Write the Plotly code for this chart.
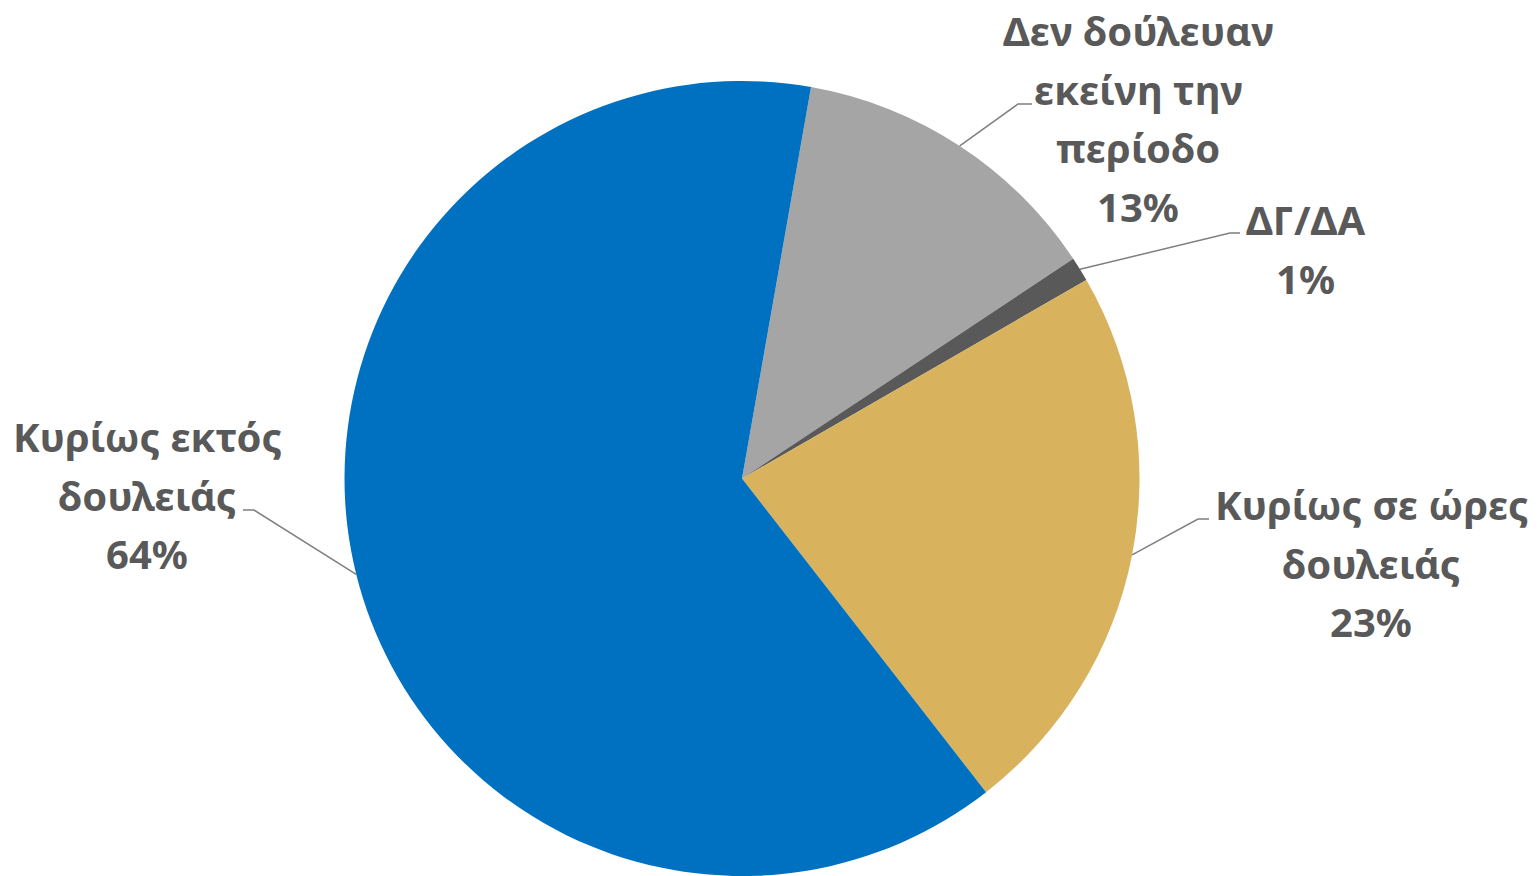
import math
import plotly.graph_objects as go

# slice data, clockwise from the top
labels = ["Δεν δούλευαν εκείνη την περίοδο", "ΔΓ/ΔΑ", "Κυρίως σε ώρες δουλειάς", "Κυρίως εκτός δουλειάς"]
values = [12.9, 1.0, 22.8, 63.3]
pct_text = ["13%", "1%", "23%", "64%"]
label_lines = [
    ["Δεν δούλευαν", "εκείνη την", "περίοδο"],
    ["ΔΓ/ΔΑ"],
    ["Κυρίως σε ώρες", "δουλειάς"],
    ["Κυρίως εκτός", "δουλειάς"],
]
colors = ["#A5A5A5", "#595959", "#D9B25D", "#0070C0"]

# the page body has an 8px margin, so the figure starts at (8, 8) in the window
OFF = 8
W, H = 1538 - OFF, 876 - OFF
start_angle = 10.0
dom_x = [336 / W, 1132 / W]
dom_y = [0.0, 1 - 73 / H]

# label layout (window pixels): text centre x, first baseline y, leader elbow, leader end
label_pos = [
    dict(x=1138, base=45, elbow=(1018, 104), end=(1032, 104)),
    dict(x=1305, base=234, elbow=(1230, 233), end=(1240, 233)),
    dict(x=1371, base=519, elbow=(1198, 519), end=(1209, 519)),
    dict(x=147, base=451, elbow=(254, 510), end=(243, 510)),
]
line_gap = 58.5
fs = 40
text_color = "#595959"
font = dict(family="Noto Sans", size=fs, color=text_color, weight="bold")

fig = go.Figure(go.Pie(
    labels=labels,
    values=values,
    sort=False,
    direction="clockwise",
    rotation=start_angle,
    marker=dict(colors=colors, line=dict(width=0)),
    textinfo="none",
    hoverinfo="label+percent",
    domain=dict(x=dom_x, y=dom_y),
))

def px(x):
    return (x - OFF) / W

def py(y):
    return 1 - (y - OFF) / H

# pie geometry as plotly lays it out (window pixels)
cx = (dom_x[0] + dom_x[1]) / 2 * W + OFF
cy = (1 - (dom_y[0] + dom_y[1]) / 2) * H + OFF
r = min((dom_x[1] - dom_x[0]) * W, (dom_y[1] - dom_y[0]) * H) / 2

annotations = []
shapes = []
total = sum(values)
acc = 0
for i, v in enumerate(values):
    mid = start_angle + (acc + v / 2) / total * 360
    acc += v
    a = math.radians(mid)
    sx, sy = cx + r * math.sin(a), cy - r * math.cos(a)
    lp = label_pos[i]
    ex, ey = lp["elbow"]
    tx, ty = lp["end"]
    shapes.append(dict(
        type="path", xref="paper", yref="paper",
        path=f"M {px(sx)},{py(sy)} L {px(ex)},{py(ey)} L {px(tx)},{py(ty)}",
        line=dict(color="#7F7F7F", width=1.5),
    ))
    lines = label_lines[i] + [pct_text[i]]
    for j, t in enumerate(lines):
        base = lp["base"] + j * line_gap
        annotations.append(dict(
            x=px(lp["x"]), y=py(base - 0.36 * fs),
            xref="paper", yref="paper",
            xanchor="center", yanchor="middle",
            text=t, showarrow=False, font=font,
        ))

fig.update_layout(
    width=W, height=H,
    margin=dict(l=0, r=0, t=0, b=0),
    paper_bgcolor="white",
    plot_bgcolor="white",
    showlegend=False,
    annotations=annotations,
    shapes=shapes,
)

fig.write_html("out.html")
